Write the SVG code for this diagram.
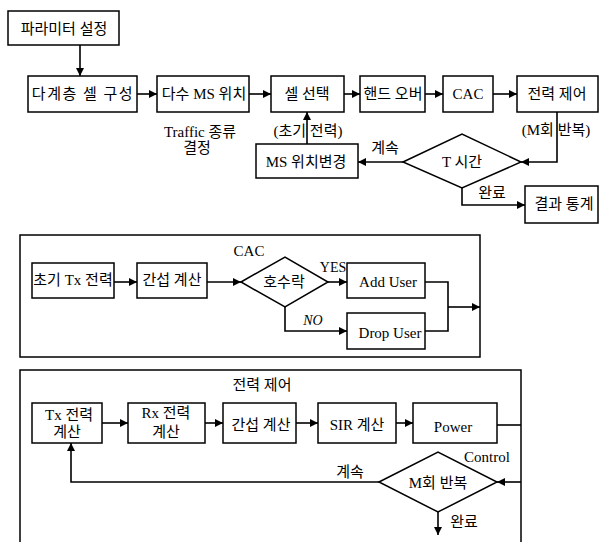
<svg xmlns="http://www.w3.org/2000/svg" width="600" height="542" viewBox="0 0 600 542">
<defs>
<marker id="ah" viewBox="0 0 10 10" refX="10" refY="5" markerWidth="9" markerHeight="8" markerUnits="userSpaceOnUse" orient="auto">
<path d="M0,0 L10,5 L0,10 z" fill="#000"/>
</marker>
</defs>
<style>
.b{fill:#fff;stroke:#000;stroke-width:1.5}
.f{fill:none;stroke:#000;stroke-width:1.5}
.c{fill:none;stroke:#000;stroke-width:1.6}
.a{marker-end:url(#ah)}
text{font-family:"Liberation Serif","Noto Sans CJK KR",serif;font-size:15px;fill:#000;text-anchor:middle;dominant-baseline:central}
</style>
<rect width="600" height="542" fill="#fff"/>

<g id="frames">
<rect class="f" x="20" y="235" width="460" height="122"/>
<path class="f" d="M20,542 V370 H521 V542"/>
</g>

<g id="connectors">
<path class="c a" d="M80,45 V76"/>
<path class="c a" d="M137,94 H157"/>
<path class="c a" d="M249,94 H271"/>
<path class="c a" d="M344,94 H360"/>
<path class="c a" d="M425,94 H443"/>
<path class="c a" d="M493,94 H517"/>
<path class="c a" d="M557,112 V162 H521"/>
<path class="c a" d="M403,162 H358"/>
<path class="c a" d="M307,144 V112"/>
<path class="c a" d="M462,188 V205 H525"/>

<path class="c a" d="M114,282 H137"/>
<path class="c a" d="M207,282 H241"/>
<path class="c a" d="M328,282 H347"/>
<path class="c a" d="M285,307 V331 H347"/>
<path class="c" d="M425,282 H448 V331 H425"/>
<path class="c a" d="M448,307 H480"/>

<path class="c a" d="M102,423 H128"/>
<path class="c a" d="M205,423 H223"/>
<path class="c a" d="M296,423 H318"/>
<path class="c a" d="M396,423 H413"/>
<path class="c" d="M497,425 H521"/>
<path class="c a" d="M521,482 H497"/>
<path class="c a" d="M379,482 H71 V443"/>
<path class="c a" d="M438,512 V535"/>
</g>

<g id="n-param"><rect class="b" x="8" y="11" width="111" height="34"/><text x="64" y="29">파라미터 설정</text></g>
<g id="n-multilayer"><rect class="b" x="28" y="76" width="109" height="36"/><text x="83" y="94" style="letter-spacing:1.5px">다계층 셀 구성</text></g>
<g id="n-ms"><rect class="b" x="157" y="76" width="92" height="36"/><text x="204" y="94">다수 MS 위치</text></g>
<g id="n-cellsel"><rect class="b" x="271" y="76" width="73" height="36"/><text x="307" y="94">셀 선택</text></g>
<g id="n-handover"><rect class="b" x="360" y="76" width="65" height="36"/><text x="393" y="94">핸드 오버</text></g>
<g id="n-cac"><rect class="b" x="443" y="76" width="50" height="36"/><text x="468" y="94">CAC</text></g>
<g id="n-pc"><rect class="b" x="517" y="76" width="81" height="36"/><text x="557" y="94">전력 제어</text></g>
<g id="n-mschange"><rect class="b" x="256" y="144" width="102" height="34"/><text x="306" y="162">MS 위치변경</text></g>
<g id="n-ttime"><path class="b" d="M403,162 L462,134 L521,162 L462,188 z"/><text x="462" y="162">T 시간</text></g>
<g id="n-result"><rect class="b" x="525" y="186" width="73" height="37"/><text x="564" y="204">결과 통계</text></g>

<g id="labels-top">
<text x="200" y="132">Traffic 종류</text>
<text x="197" y="148">결정</text>
<text x="308" y="131">(초기 전력)</text>
<text x="556" y="130">(M회 반복)</text>
<text x="385" y="148">계속</text>
<text x="492" y="193">완료</text>
</g>

<g id="cac-title"><text x="249" y="251">CAC</text></g>
<g id="n-initTx"><rect class="b" x="32" y="263" width="82" height="35"/><text x="73" y="280">초기 Tx 전력</text></g>
<g id="n-interf1"><rect class="b" x="137" y="263" width="70" height="35"/><text x="172" y="280">간섭 계산</text></g>
<g id="n-accept"><path class="b" d="M241,282 L285,257 L328,282 L285,307 z"/><text x="284" y="282">호수락</text></g>
<g id="n-add"><rect class="b" x="347" y="263" width="78" height="35"/><text x="388" y="282">Add User</text></g>
<g id="n-drop"><rect class="b" x="347" y="313" width="78" height="36"/><text x="390" y="333">Drop User</text></g>
<g id="labels-cac">
<text x="333" y="267" style="font-size:14px">YES</text>
<text x="313" y="320" style="font-size:14px;font-style:italic">NO</text>
</g>

<g id="pc-title"><text x="262" y="385">전력 제어</text></g>
<g id="n-txcalc"><rect class="b" x="32" y="403" width="70" height="40"/><text x="69" y="415">Tx 전력</text><text x="67" y="432">계산</text></g>
<g id="n-rxcalc"><rect class="b" x="128" y="403" width="77" height="40"/><text x="166" y="413">Rx 전력</text><text x="166" y="432">계산</text></g>
<g id="n-interf2"><rect class="b" x="223" y="403" width="73" height="40"/><text x="261" y="425">간섭 계산</text></g>
<g id="n-sir"><rect class="b" x="318" y="403" width="78" height="40"/><text x="357" y="425">SIR 계산</text></g>
<g id="n-power"><rect class="b" x="413" y="403" width="84" height="40"/><text x="453" y="427">Power</text></g>
<g id="n-mrep"><path class="b" d="M379,482 L438,452 L497,482 L438,512 z"/><text x="438" y="483">M회 반복</text></g>
<g id="labels-pc">
<text x="487" y="457">Control</text>
<text x="350" y="472">계속</text>
<text x="464" y="522">완료</text>
</g>
</svg>
